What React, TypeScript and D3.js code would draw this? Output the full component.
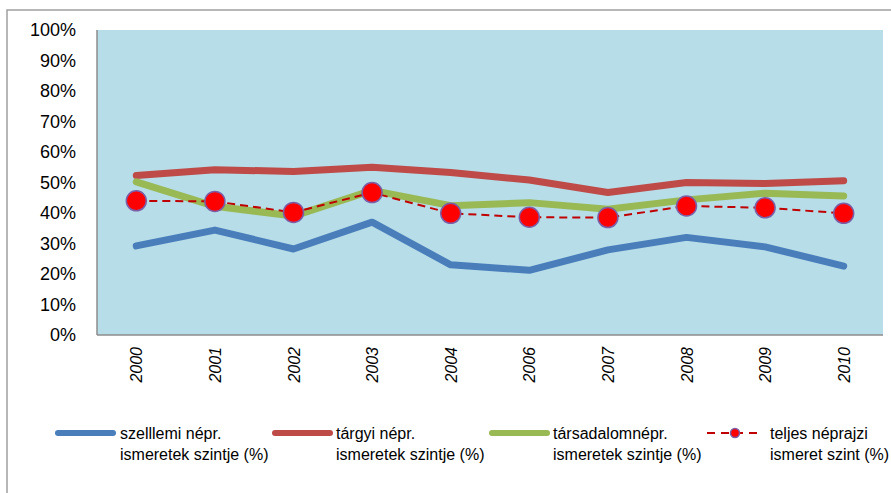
import React from "react";
import * as d3 from "d3";

const years = ["2000", "2001", "2002", "2003", "2004", "2006", "2007", "2008", "2009", "2010"];
const szellemi = [29.2, 34.4, 28.2, 37.0, 23.0, 21.2, 27.9, 32.0, 28.9, 22.6];
const targyi = [52.3, 54.2, 53.6, 55.0, 53.3, 50.8, 46.7, 50.0, 49.7, 50.6];
const tarsadalom = [50.2, 42.2, 39.0, 47.4, 42.4, 43.4, 41.2, 44.3, 46.5, 45.6];
const teljes = [44.0, 43.8, 40.2, 46.7, 39.9, 38.6, 38.5, 42.3, 41.7, 39.9];
const yTicks = [0, 10, 20, 30, 40, 50, 60, 70, 80, 90, 100];
const legendLabels = [
  ["szelllemi népr.", "ismeretek szintje (%)"],
  ["tárgyi népr.", "ismeretek szintje (%)"],
  ["társadalomnépr.", "ismeretek szintje (%)"],
  ["teljes néprajzi", "ismeret szint (%)"],
];

const W = 891;
const H = 493;
const plot = { left: 97, right: 883, top: 30, bottom: 335 };
const font = "'Liberation Sans', Arial, sans-serif";

export default function App() {
  const x = d3.scaleBand<string>().domain(years).range([plot.left, plot.right]);
  const y = d3.scaleLinear().domain([0, 100]).range([plot.bottom, plot.top]);
  const cx = (yr: string) => (x(yr) as number) + x.bandwidth() / 2;
  const line = d3
    .line<number>()
    .x((_, i) => cx(years[i]))
    .y((d) => y(d));

  const series = [
    { data: szellemi, color: "#4A7EBB" },
    { data: targyi, color: "#BE4B48" },
    { data: tarsadalom, color: "#98B954" },
  ];

  const legendX = [55, 272, 489, 707];
  const legendTextX = [120, 336, 553, 770];
  const legendColors = ["#4A7EBB", "#BE4B48", "#98B954"];

  return (
    <svg
      width={W}
      height={H}
      style={{ position: "absolute", left: 0, top: 0, background: "#fff" }}
    >
      <rect x={7} y={10} width={W + 10} height={H + 10} fill="#fff" stroke="#A0A0A0" strokeWidth={1.5} />
      <rect
        x={plot.left}
        y={plot.top}
        width={plot.right - plot.left}
        height={plot.bottom - plot.top}
        fill="#B7DDE8"
      />
      <line x1={plot.left} x2={plot.left} y1={plot.top} y2={plot.bottom} stroke="#8C8C8C" strokeWidth={1.5} />
      <line x1={plot.left} x2={plot.right} y1={plot.bottom} y2={plot.bottom} stroke="#8C8C8C" strokeWidth={1.5} />

      {yTicks.map((t) => (
        <text
          key={t}
          x={76}
          y={y(t)}
          dy="0.36em"
          textAnchor="end"
          fontFamily={font}
          fontSize={18}
          fill="#000"
        >
          {t}%
        </text>
      ))}

      {years.map((yr) => (
        <text
          key={yr}
          transform={`translate(${cx(yr) + 6},${347}) rotate(-90)`}
          textAnchor="end"
          fontFamily={font}
          fontSize={16}
          fontStyle="italic"
          fill="#000"
        >
          {yr}
        </text>
      ))}

      {series.map((s, i) => (
        <path
          key={i}
          d={line(s.data) || ""}
          fill="none"
          stroke={s.color}
          strokeWidth={7}
          strokeLinejoin="round"
          strokeLinecap="round"
        />
      ))}
      <path
        d={line(teljes) || ""}
        fill="none"
        stroke="#C00000"
        strokeWidth={2}
        strokeDasharray="8,5"
      />
      {teljes.map((v, i) => (
        <circle key={i} cx={cx(years[i])} cy={y(v)} r={10} fill="#FF0000" stroke="#7A5FA8" strokeWidth={1.5} />
      ))}

      {legendLabels.map((lbl, i) => (
        <g key={i}>
          {i < 3 ? (
            <line
              x1={legendX[i] + 3}
              x2={legendX[i] + 58}
              y1={433}
              y2={433}
              stroke={legendColors[i]}
              strokeWidth={6}
              strokeLinecap="round"
            />
          ) : (
            <g>
              <line
                x1={legendX[i]}
                x2={legendX[i] + 52}
                y1={433}
                y2={433}
                stroke="#C00000"
                strokeWidth={2}
                strokeDasharray="8,6"
              />
              <circle cx={legendX[i] + 28} cy={433} r={4.5} fill="#FF0000" stroke="#7A5FA8" strokeWidth={1.5} />
            </g>
          )}
          <text x={legendTextX[i]} y={439} fontFamily={font} fontSize={16} fill="#000">
            {lbl[0]}
          </text>
          <text x={legendTextX[i]} y={460} fontFamily={font} fontSize={16} fill="#000">
            {lbl[1]}
          </text>
        </g>
      ))}
    </svg>
  );
}
